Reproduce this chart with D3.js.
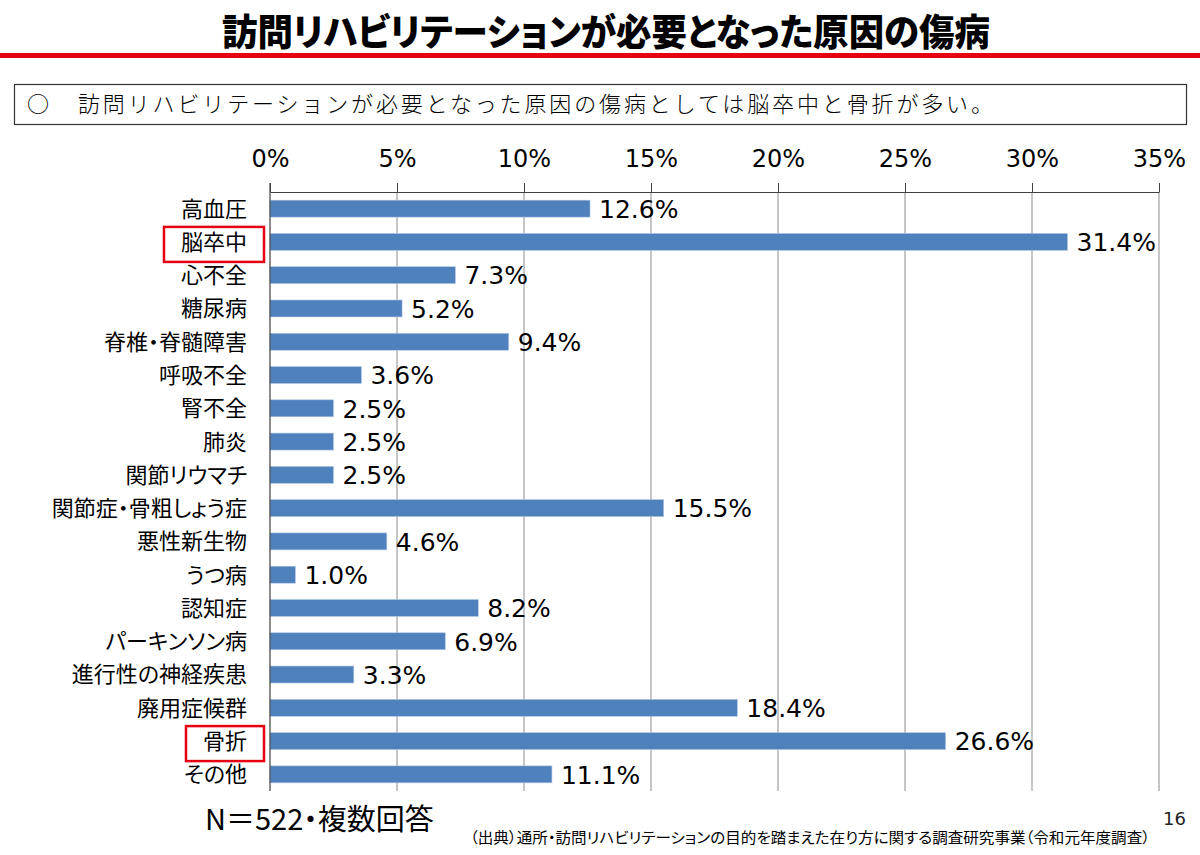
<!DOCTYPE html>
<html>
<head>
<meta charset="utf-8">
<style>
  body { margin: 0; background: #fff; }
  svg { display: block; }
  .jp { font-family: "Noto Sans CJK JP", "Noto Sans", sans-serif; font-feature-settings: "palt"; }
  .num { font-family: "DejaVu Sans", "Noto Sans CJK JP", sans-serif; }
</style>
<script src="https://d3js.org/d3.v7.min.js"></script>
</head>
<body>
<svg width="1200" height="855"></svg>
<script>
// chart data
var categories = ["高血圧", "脳卒中", "心不全", "糖尿病", "脊椎・脊髄障害", "呼吸不全", "腎不全", "肺炎",
  "関節リウマチ", "関節症・骨粗しょう症", "悪性新生物", "うつ病", "認知症", "パーキンソン病",
  "進行性の神経疾患", "廃用症候群", "骨折", "その他"];
var values = [12.6, 31.4, 7.3, 5.2, 9.4, 3.6, 2.5, 2.5, 2.5, 15.5, 4.6, 1.0, 8.2, 6.9, 3.3, 18.4, 26.6, 11.1];
var tickValues = [0, 5, 10, 15, 20, 25, 30, 35];
var highlighted = ["脳卒中", "骨折"];

var titleText = "訪問リハビリテーションが必要となった原因の傷病";
var summaryText = "訪問リハビリテーションが必要となった原因の傷病としては脳卒中と骨折が多い。";
var noteText = "N＝522・複数回答";
var sourceText = "（出典）通所・訪問リハビリテーションの目的を踏まえた在り方に関する調査研究事業（令和元年度調査）";
var pageNo = "16";

var data = categories.map((c, i) => ({cat: c, val: values[i]}));

var svg = d3.select("svg");

// title + red rule
svg.append("text")
  .attr("class", "jp")
  .attr("x", 606).attr("y", 46)
  .attr("text-anchor", "middle")
  .attr("font-size", 37).attr("font-weight", 900)
  .attr("textLength", 768).attr("lengthAdjust", "spacingAndGlyphs")
  .attr("fill", "#000")
  .text(titleText);

svg.append("rect")
  .attr("x", 0).attr("y", 53).attr("width", 1200).attr("height", 5)
  .attr("fill", "#e60012");

// summary box
svg.append("rect")
  .attr("x", 14.5).attr("y", 84.5).attr("width", 1172).attr("height", 40)
  .attr("fill", "none").attr("stroke", "#333").attr("stroke-width", 1.2);
svg.append("text")
  .attr("class", "jp")
  .attr("x", 27).attr("y", 112)
  .attr("font-size", 22)
  .text("○");
svg.append("text")
  .attr("class", "jp")
  .attr("x", 78).attr("y", 112)
  .attr("font-size", 22)
  .attr("font-weight", 300)
  .attr("textLength", 915).attr("lengthAdjust", "spacing")
  .style("font-feature-settings", "normal")
  .text(summaryText);

// scales
var x = d3.scaleLinear().domain([0, 35]).range([270, 1159]);
var y = d3.scaleBand()
  .domain(categories)
  .range([192, 791])
  .paddingInner(0.49)
  .paddingOuter(0.245);

// gridlines
svg.append("g")
  .selectAll("line")
  .data(tickValues.slice(1))
  .enter().append("line")
  .attr("x1", d => x(d)).attr("x2", d => x(d))
  .attr("y1", 192).attr("y2", 791)
  .attr("stroke", "#8c8c8c").attr("stroke-width", 1);

// bars
svg.append("g")
  .selectAll("rect")
  .data(data)
  .enter().append("rect")
  .attr("x", x(0))
  .attr("y", d => y(d.cat))
  .attr("width", d => x(d.val) - x(0))
  .attr("height", y.bandwidth())
  .attr("fill", "#4f81bd")
  .attr("stroke", "#b4c8e4")
  .attr("stroke-width", 0.6);

// top axis
var xAxis = d3.axisTop(x)
  .tickValues(tickValues)
  .tickFormat(d => d + "%")
  .tickSize(9)
  .tickSizeOuter(0)
  .tickPadding(16);

var gx = svg.append("g")
  .attr("class", "num")
  .attr("transform", "translate(0,192)")
  .call(xAxis);
gx.select(".domain").attr("stroke", "#404040");
gx.selectAll(".tick line").attr("stroke", "#404040");
gx.selectAll("text")
  .attr("font-size", 24)
  .attr("font-family", "DejaVu Sans, sans-serif")
  .attr("fill", "#000");

// left axis line
svg.append("line")
  .attr("x1", x(0)).attr("x2", x(0))
  .attr("y1", 183).attr("y2", 791)
  .attr("stroke", "#404040").attr("stroke-width", 1.2);

// category labels
var labels = svg.append("g")
  .selectAll("text")
  .data(data)
  .enter().append("text")
  .attr("class", "jp")
  .attr("x", 247)
  .attr("y", d => y(d.cat) + y.bandwidth() / 2)
  .attr("dy", "0.36em")
  .attr("text-anchor", "end")
  .attr("font-size", 22)
  .attr("fill", "#000")
  .text(d => d.cat);

// value labels
svg.append("g")
  .selectAll("text")
  .data(data)
  .enter().append("text")
  .attr("class", "num")
  .attr("x", d => x(d.val) + 9)
  .attr("y", d => y(d.cat) + y.bandwidth() / 2)
  .attr("dy", "0.37em")
  .attr("font-size", 25)
  .attr("fill", "#000")
  .text(d => d.val.toFixed(1) + "%");

// red boxes around highlighted labels
labels.filter(d => highlighted.includes(d.cat)).each(function(d) {
  var bb = this.getBBox();
  var cy = y(d.cat) + y.bandwidth() / 2;
  svg.append("rect")
    .attr("x", bb.x - 17)
    .attr("y", cy - 15)
    .attr("width", bb.width + 34)
    .attr("height", 35)
    .attr("fill", "none")
    .attr("stroke", "#e60012")
    .attr("stroke-width", 2.5);
});

// footer
svg.append("text")
  .attr("class", "jp")
  .attr("x", 205).attr("y", 830)
  .attr("font-size", 29)
  .attr("fill", "#000")
  .text(noteText);

svg.append("text")
  .attr("class", "jp")
  .attr("x", 470).attr("y", 843)
  .attr("font-size", 15)
  .attr("textLength", 680).attr("lengthAdjust", "spacingAndGlyphs")
  .attr("fill", "#000")
  .text(sourceText);

svg.append("text")
  .attr("class", "num")
  .attr("x", 1186).attr("y", 825)
  .attr("text-anchor", "end")
  .attr("font-size", 18)
  .attr("fill", "#222")
  .text(pageNo);
</script>
</body>
</html>
